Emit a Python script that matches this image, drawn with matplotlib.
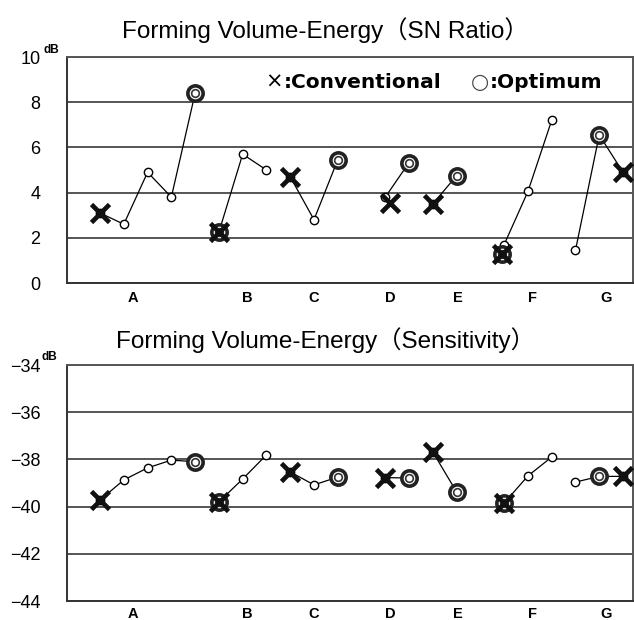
import matplotlib
matplotlib.use("Agg")
import matplotlib.pyplot as plt

plt.rcParams['font.family'] = ['Liberation Sans', 'Noto Sans CJK JP', 'DejaVu Sans']

# factor labels and where they sit on the level axis
factors = ["A", "B", "C", "D", "E", "F", "G"]
factor_pos = [1.4, 6.2, 9.0, 12.2, 15.05, 18.2, 21.3]

# level positions per factor (one slot per level)
level_x = {
    "A": [0, 1, 2, 3, 4],
    "B": [5, 6, 7],
    "C": [8, 9, 10],
    "D": [12, 13],
    "E": [14, 15],
    "F": [17, 18, 19],
    "G": [20, 21, 22],
}

# SN ratio (dB)
sn_levels = {
    "A": [3.1, 2.6, 4.9, 3.8, 8.4],
    "B": [2.25, 5.7, 5.0],
    "C": [4.7, 2.8, 5.45],
    "D": [3.8, 5.33],
    "E": [3.5, 4.75],
    "F": [1.7, 4.05, 7.2],
    "G": [1.45, 6.55, 4.9],
}
sn_conv_x = [0, 5, 8, 12.2, 14, 16.9, 22]
sn_conv_y = [3.1, 2.25, 4.7, 3.55, 3.5, 1.3, 4.9]
sn_opt_x = [4, 5, 10, 13, 15, 16.9, 21]
sn_opt_y = [8.4, 2.25, 5.45, 5.33, 4.75, 1.3, 6.55]

# Sensitivity (dB)
se_levels = {
    "A": [-39.72, -38.87, -38.36, -38.03, -38.1],
    "B": [-39.8, -38.83, -37.81],
    "C": [-38.53, -39.08, -38.75],
    "D": [-38.77, -38.79],
    "E": [-37.69, -39.38],
    "F": [-39.85, -38.7, -37.9],
    "G": [-38.96, -38.72, -38.72],
}
se_conv_x = [0, 5, 8, 12, 14, 17, 22]
se_conv_y = [-39.72, -39.8, -38.53, -38.77, -37.69, -39.85, -38.72]
se_opt_x = [4, 5, 10, 13, 15, 17, 21]
se_opt_y = [-38.1, -39.8, -38.75, -38.79, -39.38, -39.85, -38.72]

W, H = 634, 620
fig = plt.figure(figsize=(W / 100, H / 100), dpi=100)


def panel(rect, levels, conv_x, conv_y, opt_x, opt_y, ylim, yticks, xpad):
    ax = fig.add_axes(rect)
    for f in factors:
        ax.plot(level_x[f], levels[f], color="black", lw=0.9, zorder=3,
                marker="o", ms=6, mfc="white", mec="black", mew=1.0)
    # optimum: double circle
    ax.plot(opt_x, opt_y, ls="none", marker="o", ms=11, mfc="white",
            mec="#222222", mew=2.6, zorder=4)
    ax.plot(opt_x, opt_y, ls="none", marker="o", ms=5.5, mfc="white",
            mec="#333333", mew=1.2, zorder=5)
    # conventional: cross
    ax.plot(conv_x, conv_y, ls="none", marker="x", ms=12.5, mec="#111111",
            mew=3.4, zorder=6)
    ax.set_xlim(-1.39, 22.42)
    ax.set_ylim(*ylim)
    ax.set_yticks(yticks)
    ax.set_xticks(factor_pos)
    ax.set_xticklabels(factors, fontweight="bold", fontsize=10.5)
    ax.tick_params(axis="y", length=0, pad=19, labelsize=13)
    ax.tick_params(axis="x", length=0, pad=xpad)
    ax.grid(axis="y", color="#555555", lw=1.4)
    ax.set_axisbelow(True)
    for s in ax.spines.values():
        s.set_color("#555555")
        s.set_linewidth(1.4)
    ax.spines["left"].set_color("#333333")
    ax.spines["bottom"].set_color("#333333")
    return ax


top = panel([67 / W, 1 - 283 / H, 566 / W, 226 / H], sn_levels,
            sn_conv_x, sn_conv_y, sn_opt_x, sn_opt_y, (0, 10),
            [0, 2, 4, 6, 8, 10], 6)
bot = panel([67 / W, 1 - 601 / H, 566 / W, 236 / H], se_levels,
            se_conv_x, se_conv_y, se_opt_x, se_opt_y, (-44, -34),
            [-44, -42, -40, -38, -36, -34], 4.5)

fig.text(325 / W, 1 - 30 / H, "Forming Volume-Energy（SN Ratio）",
         ha="center", va="center", fontsize=17.5)
fig.text(325 / W, 1 - 340 / H, "Forming Volume-Energy（Sensitivity）",
         ha="center", va="center", fontsize=17.5)

fig.text(43 / W, 1 - 50 / H, "dB", ha="left", va="center", fontsize=8.5, fontweight="bold")
fig.text(42 / W, 1 - 357 / H, "dB", ha="left", va="center", fontsize=8.5, fontweight="bold")

# legend in top panel
fig.text(265 / W, 1 - 82 / H, "×", ha="left", va="center", fontsize=15,
         family="DejaVu Sans")
fig.text(284 / W, 1 - 82 / H, ":Conventional", ha="left", va="center",
         fontsize=14.5, fontweight="bold", family="DejaVu Sans")
fig.text(471 / W, 1 - 82 / H, "○", ha="left", va="center", fontsize=15,
         family="DejaVu Sans", color="#444444")
fig.text(490 / W, 1 - 82 / H, ":Optimum", ha="left", va="center",
         fontsize=14.5, fontweight="bold", family="DejaVu Sans")

fig.savefig("out.png", dpi=100)
